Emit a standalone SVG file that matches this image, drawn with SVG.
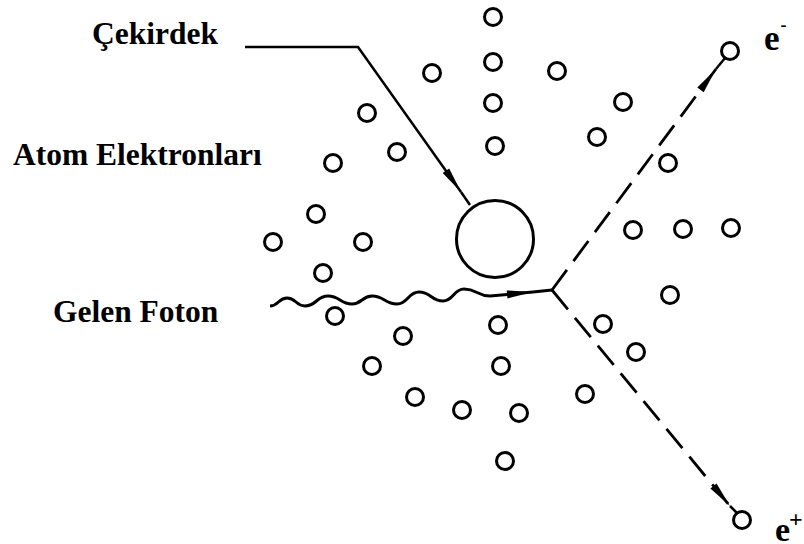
<svg xmlns="http://www.w3.org/2000/svg" width="804" height="544" viewBox="0 0 804 544">
  <style>
    .bg { fill: #ffffff; }
    .label { font-family: "Liberation Serif", "DejaVu Serif", "Times New Roman", serif; font-weight: bold; fill: #000000; }
    .el { fill: none; stroke: #000000; stroke-width: 3; }
    .nucleus { fill: none; stroke: #000000; stroke-width: 3; }
    .lead { fill: none; stroke: #000000; stroke-width: 2.5; }
    .wave { fill: none; stroke: #000000; stroke-width: 3; stroke-linejoin: round; }
    .dash { fill: none; stroke: #000000; stroke-width: 2.8; stroke-dasharray: 25 11; }
  </style>
  <defs>
    <marker id="tip" markerUnits="userSpaceOnUse" markerWidth="30" markerHeight="12" viewBox="-28 -6 30 12" refX="0" refY="0" orient="auto">
      <path d="M0,0 L-26,-4 L-26,4 Z" fill="#000000"/>
    </marker>
  </defs>

  <rect class="bg" x="0" y="0" width="804" height="544"/>

  <!-- labels -->
  <g id="label-cekirdek"><text class="label" x="92" y="43.5" font-size="31.5">Çekirdek</text></g>
  <g id="label-atom-elektronlari"><text class="label" x="13" y="165" font-size="31.5">Atom Elektronları</text></g>
  <g id="label-gelen-foton"><text class="label" x="53" y="322" font-size="31.5">Gelen Foton</text></g>
  <g id="label-electron">
    <text class="label" x="764" y="50" font-size="35">e</text>
    <text class="label" x="780.5" y="31" font-size="18">-</text>
  </g>
  <g id="label-positron">
    <text class="label" x="775" y="541" font-size="34">e</text>
    <text class="label" x="789" y="527" font-size="24">+</text>
  </g>

  <!-- nucleus -->
  <g id="nucleus"><circle class="nucleus" cx="495" cy="239" r="38.5"/></g>

  <!-- atomic electrons -->
  <g id="atom-electrons">
    <circle class="el" cx="493" cy="17" r="8.5"/>
    <circle class="el" cx="493" cy="62" r="8.5"/>
    <circle class="el" cx="432" cy="73" r="8.5"/>
    <circle class="el" cx="557" cy="71" r="8.5"/>
    <circle class="el" cx="493" cy="103" r="8.5"/>
    <circle class="el" cx="623" cy="102" r="8.5"/>
    <circle class="el" cx="495" cy="146" r="8.5"/>
    <circle class="el" cx="597" cy="137" r="8.5"/>
    <circle class="el" cx="668" cy="163" r="8.5"/>
    <circle class="el" cx="367" cy="113" r="8.5"/>
    <circle class="el" cx="397" cy="152" r="8.5"/>
    <circle class="el" cx="333" cy="163" r="8.5"/>
    <circle class="el" cx="316" cy="214" r="8.5"/>
    <circle class="el" cx="273" cy="242" r="8.5"/>
    <circle class="el" cx="363" cy="242" r="8.5"/>
    <circle class="el" cx="323" cy="273" r="8.5"/>
    <circle class="el" cx="335" cy="316" r="8.5"/>
    <circle class="el" cx="403" cy="336" r="8.5"/>
    <circle class="el" cx="498" cy="325" r="8.5"/>
    <circle class="el" cx="372" cy="366" r="8.5"/>
    <circle class="el" cx="501" cy="366" r="8.5"/>
    <circle class="el" cx="415" cy="397" r="8.5"/>
    <circle class="el" cx="462" cy="410" r="8.5"/>
    <circle class="el" cx="519" cy="413" r="8.5"/>
    <circle class="el" cx="505" cy="461" r="8.5"/>
    <circle class="el" cx="636" cy="352" r="8.5"/>
    <circle class="el" cx="585" cy="394" r="8.5"/>
    <circle class="el" cx="633" cy="230" r="8.5"/>
    <circle class="el" cx="683" cy="229" r="8.5"/>
    <circle class="el" cx="731" cy="228" r="8.5"/>
    <circle class="el" cx="670" cy="295" r="8.5"/>
    <circle class="el" cx="603" cy="324" r="8.5"/>
  </g>

  <!-- outgoing pair -->
  <g id="electron"><circle class="el" cx="730" cy="51" r="8.5"/></g>
  <g id="positron"><circle class="el" cx="742" cy="520" r="8.5"/></g>

  <!-- connectors -->
  <g id="connectors">
    <!-- leader to the nucleus -->
    <path class="lead" d="M245,47 L358,47 L461,192" marker-end="url(#tip)"/>
    <path class="lead" d="M461,192 L470,205"/>
    <!-- incoming photon -->
    <path class="wave" d="M270,306 C278.5,306 278.5,298 287,298 C296,298 296,306 305,306 C316.5,306 316.5,296 328,296 C340,296 340,304 352,304 C362,304 362,296 372,296 C384.5,296 384.5,304 397,304 C408,304 408,292 419,292 C431,292 431,301 443,301 C453.5,301 453.5,289 464,289 C477,289 477,296 490,296 L533,292" marker-end="url(#tip)"/>
    <path class="wave" d="M533,292 L552,290"/>
    <!-- electron track -->
    <path class="dash" d="M552,290 L716,69" marker-end="url(#tip)"/>
    <path class="lead" d="M716,69 L725,58"/>
    <!-- positron track -->
    <path class="dash" d="M552,290 L730,506" marker-end="url(#tip)"/>
    <path class="lead" d="M730,506 L737,513"/>
  </g>
</svg>
